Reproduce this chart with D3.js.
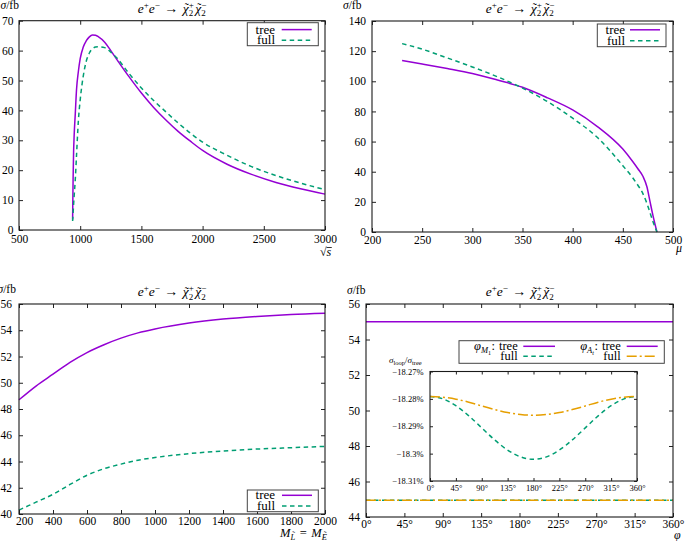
<!DOCTYPE html>
<html><head><meta charset="utf-8">
<script src="https://cdn.jsdelivr.net/npm/d3@7"></script>
<style>
body{margin:0;background:#fff}
svg{display:block}
text{font-family:"Liberation Serif","Times New Roman",serif;fill:#000}
</style>
</head><body><svg id="c" width="685" height="541"></svg>
<script>
// ---------- DATA ----------
// Panel 1: sigma vs sqrt(s)
const p1Sqrts=[938,942,946,950,960,970,985,1000,1025,1050,1075,1100,1125,1150,1200,1250,1300,1400,1500,1600,1700,1800,1900,2000,2200,2400,2600,2800,3000];
const p1Tree=[3.5,17,26,31,39,47,53,57.3,61.2,63.3,64.6,65.2,65.1,64.6,62.8,60.0,57.0,51.2,45.8,41.0,36.8,33.0,29.7,26.6,22.0,18.6,15.9,13.8,12.0];
const p1Full=[3,5.5,8.5,11,17,25,36.5,43.5,51.5,56.5,59.2,60.6,61.2,61.3,61.0,59.5,57.5,52.3,47.5,43.3,39.5,35.8,32.4,29.4,25.0,21.2,18.2,15.7,13.5];
const p1XTicks=[500,1000,1500,2000,2500,3000];
const p1YTicks=[0,10,20,30,40,50,60,70];
// Panel 2: sigma vs mu
const p2Mu=[230,250,275,300,325,350,375,400,425,450,460,465,470,474,477,480,484];
const p2Tree=[113.8,111.5,108.5,105.2,100.8,96.0,89.0,81.0,69.8,55.0,46.6,42.0,37.0,30.0,20.5,11.0,0];
const p2Full=[125.0,121.3,115.5,109.5,103.0,95.5,86.5,75.5,62.5,44.0,35.8,31.0,25.5,19.0,13.0,7.0,0];
const p2XTicks=[200,250,300,350,400,450,500];
const p2YTicks=[0,20,40,60,80,100,120,140];
// Panel 3: sigma vs M_L = M_E
const p3M=[200,300,400,500,600,700,800,900,1000,1200,1400,1600,1800,2000];
const p3Tree=[48.7,49.75,50.65,51.55,52.3,52.9,53.4,53.8,54.1,54.55,54.85,55.05,55.2,55.3];
const p3Full=[40.3,40.9,41.5,42.25,42.95,43.45,43.8,44.1,44.3,44.6,44.8,44.95,45.05,45.15];
const p3XTicks=[200,400,600,800,1000,1200,1400,1600,1800,2000];
const p3YTicks=[40,42,44,46,48,50,52,54,56];
// Panel 4: sigma vs phase
const p4Phi=[0,360];
const p4Tree=[55.0,55.0];
const p4FullM1=[44.95,44.95];
const p4FullAt=[44.95,44.95];
const p4XTicks=[0,45,90,135,180,225,270,315,360];
const p4YTicks=[44,46,48,50,52,54,56];
// Inset: sigma_loop/sigma_tree in %
const insPhi=[0,22.5,45,67.5,90,112.5,135,157.5,180,202.5,225,247.5,270,292.5,315,337.5,360];
const insM1=[-18.2791,-18.2800,-18.2825,-18.2862,-18.2906,-18.2950,-18.2987,-18.3012,-18.3021,-18.3012,-18.2987,-18.2950,-18.2906,-18.2862,-18.2825,-18.2800,-18.2791];
const insAt=[-18.2791,-18.2794,-18.2801,-18.2812,-18.2826,-18.2839,-18.2850,-18.2857,-18.2860,-18.2857,-18.2850,-18.2839,-18.2826,-18.2812,-18.2801,-18.2794,-18.2791];
const insYTicks=[-18.31,-18.30,-18.29,-18.28,-18.27];
const insYLabels=["−18.31%","−18.3%","−18.29%","−18.28%","−18.27%"];
const legendLabels=["tree","full"];

// ---------- STYLE ----------
const SERIF='"Liberation Serif","Times New Roman",serif';
const FS=11.5;
const PURPLE="#9400d3", GREEN="#009e73", ORANGE="#e69f00";
const svg=d3.select("#c");

function mtext(parent,x,y,parts,anchor,size){
  size=size||FS;
  const g=parent.append("g");
  let cx=0,last=null;
  parts.forEach(p=>{
    if(p.acc){
      g.append("text").attr("x",last.x+last.w/2+(p.dx||0)).attr("y",last.dy-(p.up||0))
        .attr("text-anchor","middle").attr("font-size",p.size||last.size).text(p.acc);
      return;
    }
    if(p.stack){
      let w=0;
      p.stack.forEach(s=>{
        const t=g.append("text").attr("x",cx).attr("y",s.dy).attr("font-size",s.size)
          .attr("font-style",s.it?"italic":null).text(s.t);
        w=Math.max(w,t.node().getComputedTextLength());
      });
      cx+=w+(p.gap||0);return;
    }
    const sz=p.size||size, dy=p.dy||0, x0=cx+(p.pre||0);
    const t=g.append("text").attr("x",x0).attr("y",dy).attr("font-size",sz)
      .attr("font-style",p.it?"italic":null).text(p.t);
    const w=t.node().getComputedTextLength();
    if(p.over){g.append("line").attr("x1",x0).attr("x2",x0+w+0.5).attr("y1",dy-p.over).attr("y2",dy-p.over).attr("stroke","#000").attr("stroke-width",0.8);}
    last={x:x0,w,dy,size:sz};
    cx=x0+w+(p.gap||0);
  });
  const off=anchor==="middle"?-cx/2:anchor==="end"?-cx:0;
  g.attr("transform",`translate(${x+off},${y})`);
  return g;
}

function titleParts(){
  return [{t:"e",it:1},{t:"+",size:9,dy:-5},{t:"e",it:1},{t:"−",size:9,dy:-5,gap:4.5},
    {t:"→",size:14,gap:4.5},{t:"χ",it:1},{acc:"˜",up:0.5,size:12,dx:1},
    {stack:[{t:"+",size:9,dy:-5},{t:"2",size:9,dy:3.5}],gap:1.5},
    {t:"χ",it:1},{acc:"˜",up:0.5,size:12,dx:1},
    {stack:[{t:"−",size:9,dy:-5},{t:"2",size:9,dy:3.5}]}];
}
const sigmaFb=[{t:"σ",it:1},{t:"/fb"}];

function axes(g,x,y,xt,yt,xf,yf,o){
  o=o||{};
  const L=o.L||4, fs=o.fs||FS;
  const [y1,y0]=y.range(), [x0,x1]=x.range();
  const style=a=>a.attr("font-family",SERIF).attr("font-size",fs).style("color","#222")
    .call(s=>s.select(".domain").remove());
  g.append("g").attr("transform",`translate(0,${y1})`)
    .call(d3.axisBottom(x).tickValues(xt).tickFormat(xf).tickSizeInner(-L).tickSizeOuter(0).tickPadding(o.xpad||4.5)).call(style);
  g.append("g").attr("transform",`translate(0,${y0})`)
    .call(d3.axisTop(x).tickValues(xt).tickFormat("").tickSizeInner(-L).tickSizeOuter(0)).call(style);
  g.append("g").attr("transform",`translate(${x0},0)`)
    .call(d3.axisLeft(y).tickValues(yt).tickFormat(yf).tickSizeInner(-L).tickSizeOuter(0).tickPadding(o.ypad||6)).call(style);
  g.append("g").attr("transform",`translate(${x1},0)`)
    .call(d3.axisRight(y).tickValues(yt).tickFormat("").tickSizeInner(-L).tickSizeOuter(0)).call(style);
  g.selectAll("text").attr("fill","#000");
  g.append("rect").attr("x",x0).attr("y",y0).attr("width",x1-x0).attr("height",y1-y0)
    .attr("fill","none").attr("stroke","#1a1a1a").attr("stroke-width",1.1);
}

function curve(g,x,y,xs,ys,color,dash){
  const line=d3.line().x((d,i)=>x(xs[i])).y(d=>y(d)).curve(d3.curveMonotoneX);
  g.append("path").attr("d",line(ys)).attr("fill","none").attr("stroke",color)
    .attr("stroke-width",1.5).attr("stroke-dasharray",dash||null);
}

const DASH="4.5,3.5", DASHDOT="10,3,2,3";

function legend2(g,bx,by,bw,bh,textX,lx0,lx1,rows){
  g.append("rect").attr("x",bx).attr("y",by).attr("width",bw).attr("height",bh)
    .attr("fill","#fff").attr("stroke","#444").attr("stroke-width",1);
  rows.forEach(r=>{
    g.append("text").attr("x",textX).attr("y",r.cy+4).attr("text-anchor","end").attr("font-size",13).text(r.label);
    g.append("line").attr("x1",lx0).attr("x2",lx1).attr("y1",r.cy).attr("y2",r.cy)
      .attr("stroke",r.color).attr("stroke-width",1.5).attr("stroke-dasharray",r.dash||null);
  });
}

const TS=13.5;
// ---------- PANEL 1 ----------
{
  const g=svg.append("g");
  const x=d3.scaleLinear().domain([500,3000]).range([19,325]);
  const y=d3.scaleLinear().domain([0,70]).range([230,20.7]);
  curve(g,x,y,p1Sqrts,p1Tree,PURPLE);
  curve(g,x,y,p1Sqrts,p1Full,GREEN,DASH);
  axes(g,x,y,p1XTicks,p1YTicks,d3.format("d"),d3.format("d"),{ypad:5.5});
  legend2(g,247.3,22.7,71,23,275,281.7,311.7,[
    {label:legendLabels[0],cy:29.6,color:PURPLE},{label:legendLabels[1],cy:40.2,color:GREEN,dash:DASH}]);
  mtext(g,172,12.5,titleParts(),"middle",TS);
  mtext(g,0.5,9,sigmaFb,"start",11.5);
  mtext(g,320,256,[{t:"√",size:12},{t:"s",it:1,over:8.5}],"start",12);
}
// ---------- PANEL 2 ----------
{
  const g=svg.append("g");
  const x=d3.scaleLinear().domain([200,500]).range([372,673]);
  const y=d3.scaleLinear().domain([0,140]).range([232,21]);
  curve(g,x,y,p2Mu,p2Tree,PURPLE);
  curve(g,x,y,p2Mu,p2Full,GREEN,DASH);
  axes(g,x,y,p2XTicks,p2YTicks,d3.format("d"),d3.format("d"),{xpad:3.5});
  legend2(g,597.3,24,68.7,22.7,625,630,660,[
    {label:legendLabels[0],cy:29.8,color:PURPLE},{label:legendLabels[1],cy:40.8,color:GREEN,dash:DASH}]);
  mtext(g,520,12.5,titleParts(),"middle",TS);
  mtext(g,343,9,sigmaFb,"start",11.5);
  mtext(g,676,251.5,[{t:"μ",it:1}],"start",12);
}
// ---------- PANEL 3 ----------
{
  const g=svg.append("g");
  const x=d3.scaleLinear().domain([200,2000]).range([19,325]);
  const y=d3.scaleLinear().domain([40,56]).range([514,304]);
  curve(g,x,y,p3M,p3Tree,PURPLE);
  curve(g,x,y,p3M,p3Full,GREEN,DASH);
  axes(g,x,y,p3XTicks,p3YTicks,d3.format("d"),d3.format("d"),{ypad:7,xpad:3});
  g.selectAll(".tick text").filter(d=>d===200).attr("dx",5);
  legend2(g,247.3,490,71,21.7,275,282,312,[
    {label:legendLabels[0],cy:495.3,color:PURPLE},{label:legendLabels[1],cy:506,color:GREEN,dash:DASH}]);
  mtext(g,172,296,titleParts(),"middle",TS);
  mtext(g,-2.5,293,sigmaFb,"start",11.5);
  mtext(g,280,536.7,[{t:"M",it:1},{t:"L",it:1,size:8.5,dy:3},{acc:"˜",up:3,size:9,dx:1},
    {t:"=",pre:4.5,gap:4.5},{t:"M",it:1},{t:"E",it:1,size:8.5,dy:3},{acc:"˜",up:3,size:9,dx:1}],"start",12.5);
}
// ---------- PANEL 4 ----------
{
  const g=svg.append("g");
  const x=d3.scaleLinear().domain([0,360]).range([366,673]);
  const y=d3.scaleLinear().domain([44,56]).range([517,304]);
  curve(g,x,y,p4Phi,p4Tree,PURPLE);
  curve(g,x,y,p4Phi,p4FullM1,GREEN,DASH);
  curve(g,x,y,p4Phi,p4FullAt,ORANGE,DASHDOT);
  axes(g,x,y,p4XTicks,p4YTicks,d=>d+"°",d3.format("d"),{xpad:3});
  // legend
  g.append("rect").attr("x",459).attr("y",340.7).attr("width",205.3).attr("height",22.6)
    .attr("fill","#fff").attr("stroke","#444").attr("stroke-width",1);
  mtext(g,517.7,350,[{t:"φ",it:1},{t:"M",it:1,size:8.5,dy:3},{t:"1",size:6,dy:4.5,gap:0.5},{t:":",gap:4},{t:legendLabels[0]}],"end",12.5);
  mtext(g,517.7,360.3,[{t:legendLabels[1]}],"end",12.5);
  mtext(g,620.7,350,[{t:"φ",it:1},{t:"A",it:1,size:8.5,dy:3},{t:"t",it:1,size:6,dy:4.5,gap:0.5},{t:":",gap:4},{t:legendLabels[0]}],"end",12.5);
  mtext(g,620.7,360.3,[{t:legendLabels[1]}],"end",12.5);
  const ly1=346.3, ly2=356.3;
  g.append("line").attr("x1",523.3).attr("x2",555).attr("y1",ly1).attr("y2",ly1).attr("stroke",PURPLE).attr("stroke-width",1.5);
  g.append("line").attr("x1",523.3).attr("x2",555).attr("y1",ly2).attr("y2",ly2).attr("stroke",GREEN).attr("stroke-width",1.5).attr("stroke-dasharray",DASH);
  g.append("line").attr("x1",626.7).attr("x2",657.7).attr("y1",ly1).attr("y2",ly1).attr("stroke",PURPLE).attr("stroke-width",1.5);
  g.append("line").attr("x1",626.7).attr("x2",657.7).attr("y1",ly2).attr("y2",ly2).attr("stroke",ORANGE).attr("stroke-width",1.5).attr("stroke-dasharray",DASHDOT);
  mtext(g,520,296,titleParts(),"middle",TS);
  mtext(g,347,294,sigmaFb,"start",11.5);
  mtext(g,674,539,[{t:"φ",it:1}],"start",12);
  // inset
  const ix=d3.scaleLinear().domain([0,360]).range([430,637]);
  const iy=d3.scaleLinear().domain([-18.31,-18.27]).range([481,371.5]);
  g.append("rect").attr("x",430).attr("y",371.5).attr("width",207).attr("height",109.5).attr("fill","#fff");
  curve(g,ix,iy,insPhi,insM1,GREEN,DASH);
  curve(g,ix,iy,insPhi,insAt,ORANGE,DASHDOT);
  axes(g,ix,iy,p4XTicks,insYTicks,d=>d+"°",(d,i)=>insYLabels[i],{fs:8.5,L:3,xpad:4,ypad:6.5});
  mtext(g,389,362.5,[{t:"σ",it:1,size:9},{t:"loop",size:6.5,dy:2},{t:"/",size:9},{t:"σ",it:1,size:9},{t:"tree",size:6.5,dy:2}],"start",9);
}
</script></body></html>
